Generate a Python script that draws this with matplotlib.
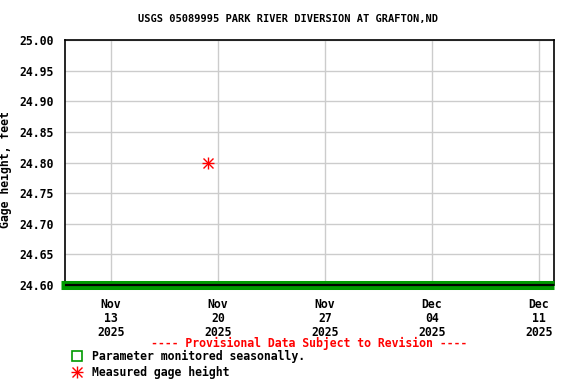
import numpy as np
import matplotlib
matplotlib.use('Agg')
import matplotlib.pyplot as plt
import matplotlib.dates as mdates
from datetime import datetime

# data
meas_dates = [datetime(2025, 11, 19, 8, 0)]
meas_height = [24.80]
season_start = datetime(2025, 11, 10)
season_end = datetime(2025, 12, 12)
season_level = 24.60
x_ticks = [datetime(2025, 11, 13), datetime(2025, 11, 20), datetime(2025, 11, 27),
           datetime(2025, 12, 4), datetime(2025, 12, 11)]
y_ticks = [24.60, 24.65, 24.70, 24.75, 24.80, 24.85, 24.90, 24.95, 25.00]

title = 'USGS 05089995 PARK RIVER DIVERSION AT GRAFTON,ND'

plt.rcParams['font.family'] = 'DejaVu Sans Mono'
plt.rcParams['font.weight'] = 'bold'

fig = plt.figure(figsize=(5.76, 3.84), dpi=100)
ax = fig.add_axes([65/576, 1 - 285/384, 489/576, 245/384])

ax.set_xlim(season_start, season_end)
ax.set_ylim(24.60, 25.00)

ax.set_yticks(y_ticks)
ax.set_yticklabels(['%.2f' % v for v in y_ticks], fontsize=8.3, fontweight='bold')
ax.set_xticks(x_ticks)
ax.set_xticklabels([d.strftime('%b\n%d\n%Y') for d in x_ticks], fontsize=8.3,
                   fontweight='bold', linespacing=1.15)
ax.tick_params(axis='both', length=0)
ax.tick_params(axis='y', pad=8)
ax.tick_params(axis='x', pad=9)
ax.grid(True, color='#cccccc', lw=1)
ax.set_axisbelow(True)
for s in ax.spines.values():
    s.set_color('black')
    s.set_linewidth(1.2)

# seasonal bar at bottom
ax.plot([season_start - (season_end - season_start) * 0.008, season_end], [season_level, season_level],
        color='#009900', lw=6.5, solid_capstyle='butt', clip_on=False, zorder=3)
ax.plot([season_start, season_end], [season_level, season_level],
        color='black', lw=1.6, solid_capstyle='butt', clip_on=False, zorder=4)

# measured point (8-spoke asterisk)
ax.plot(meas_dates, meas_height, marker='+', color='red', ms=9, mew=1, ls='none', zorder=5)
ax.plot(meas_dates, meas_height, marker='x', color='red', ms=6.5, mew=1, ls='none', zorder=5)

ax.set_ylabel('Gage height, feet', fontsize=8.3, fontweight='bold')
ax.yaxis.set_label_coords(-53/489, 0.47)
fig.text(288/576, 1 - 19/384, title, ha='center', va='center', fontsize=7.5, fontweight='bold')

fig.text(309/576, 1 - 343/384, '---- Provisional Data Subject to Revision ----',
         ha='center', va='center', color='red', fontsize=8.3, fontweight='bold')

# legend
fig.lines.append(plt.Line2D([77/576], [1 - 356/384], marker='s', ms=6.5, mfc='none', mec='#009900',
                            mew=1.2, ls='none', transform=fig.transFigure))
fig.text(92/576, 1 - 356/384, 'Parameter monitored seasonally.', ha='left', va='center',
         fontsize=8.3, fontweight='bold')
fig.lines.append(plt.Line2D([77/576], [1 - 372/384], marker='+', ms=9, mew=1, color='red',
                            ls='none', transform=fig.transFigure))
fig.lines.append(plt.Line2D([77/576], [1 - 372/384], marker='x', ms=6.5, mew=1, color='red',
                            ls='none', transform=fig.transFigure))
fig.text(92/576, 1 - 372/384, 'Measured gage height', ha='left', va='center',
         fontsize=8.3, fontweight='bold')

plt.savefig('out.png', dpi=100)
